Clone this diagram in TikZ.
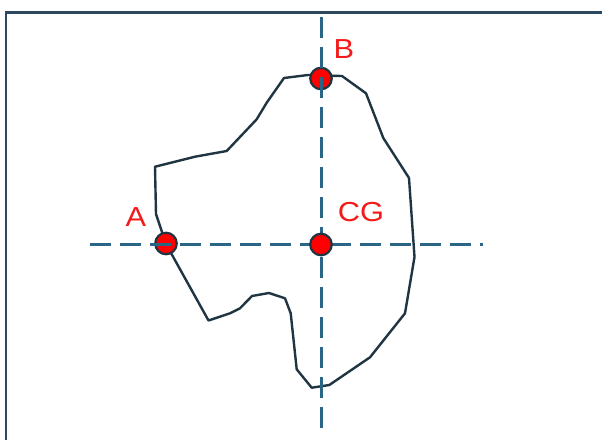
\documentclass[tikz,border=0pt]{standalone}
\usepackage{fontspec}
\setmainfont{Liberation Sans}
\newfontfamily\labfont[FakeStretch=1.12]{Liberation Sans}
\definecolor{axiscol}{HTML}{2A6585}
\definecolor{outlinecol}{HTML}{1F3642}
\definecolor{framecol}{HTML}{2C4760}
\definecolor{dotred}{HTML}{FF0000}
\definecolor{labred}{HTML}{F41A1A}
\tikzset{
  axisline/.style={draw=axiscol, line width=3pt, dash pattern=on 21pt off 9pt},
  shapeline/.style={draw=outlinecol, line width=2.4pt, line join=round},
  pointdot/.style={circle, fill=dotred, draw=outlinecol, line width=2.2pt, inner sep=0pt, minimum size=21.5pt},
  pointlabel/.style={text=labred, font=\labfont\fontsize{27.5}{32}\selectfont, inner sep=0pt, anchor=base},
}
\begin{document}
\begin{tikzpicture}[x=1pt, y=-1pt]
\useasboundingbox (0,0) rectangle (602,439);
% frame
\draw[framecol, line width=2.5pt] (6,445) -- (6,12.3) -- (610,12.3);
% outline
\draw[shapeline] (284,78) -- (308,75) -- (321,75.5) -- (342,76) -- (366,93.3) -- (383.3,138) -- (409,178)
  -- (414.5,257) -- (405,313.3) -- (370,357.3) -- (329.3,385) -- (311.7,387.7) -- (296.7,369.3)
  -- (290.7,313.3) -- (285,298.3) -- (269,293) -- (252,296) -- (240,308.3) -- (230,313.3)
  -- (208.5,320.5) -- (166,244) -- (156,214) -- (155,166.7) -- (195,156.7) -- (226.7,151)
  -- (256.7,119.3) -- (266.7,102.7) -- cycle;
% dots
\node[pointdot] (A) at (166,243.5) {};
\node[pointdot] (B) at (321,78.5) {};
% axes
\coordinate (hL) at (90,244.5);
\coordinate (hR) at (483,244.5);
\coordinate (vT) at (321,17);
\coordinate (vB) at (321,429);
\draw[axisline] (hL) -- (hR);
\draw[axisline] (vT) -- (vB);
\node[pointdot] (CG) at (321,244.5) {};
% labels
\node[pointlabel] (labB) at (344,58.3) {B};
\node[pointlabel] (labA) at (135.8,226.5) {A};
\node[pointlabel] (labCG) at (361,221.5) {CG};
\end{tikzpicture}
\end{document}
